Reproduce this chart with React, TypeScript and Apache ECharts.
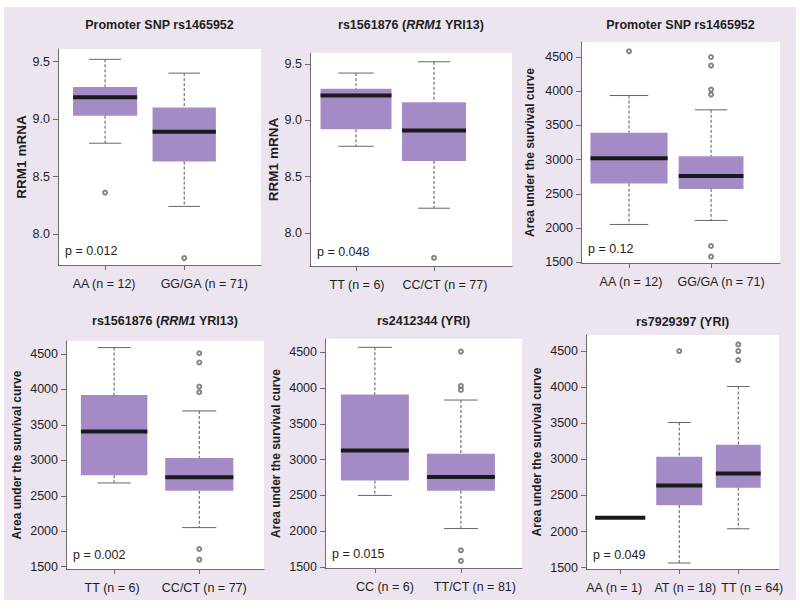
import React, { useEffect, useRef } from 'react';
import * as echarts from 'echarts';

// ---------- data ----------
const p1Categories = ['AA (n = 12)', 'GG/GA (n = 71)'];
const p1Boxes = [
  [8.79, 9.03, 9.19, 9.28, 9.52],
  [8.24, 8.63, 8.89, 9.1, 9.4],
];
const p1Outliers = [[1, 8.36], [2, 7.79]];

const p2Categories = ['TT (n = 6)', 'CC/CT (n = 77)'];
const p2Boxes = [
  [8.77, 8.92, 9.22, 9.28, 9.42],
  [8.22, 8.64, 8.91, 9.16, 9.52],
];
const p2Outliers = [[2, 7.78]];

const p3Categories = ['AA (n = 12)', 'GG/GA (n = 71)'];
const p3Boxes = [
  [2053, 2650, 3019, 3393, 3937],
  [2112, 2573, 2762, 3049, 3728],
];
const p3Outliers = [[1, 4583], [2, 4500], [2, 4374], [2, 4024], [2, 3951], [2, 1738], [2, 1583]];

const p4Categories = ['TT (n = 6)', 'CC/CT (n = 77)'];
const p4Boxes = [
  [2681, 2790, 3406, 3920, 4590],
  [2052, 2570, 2761, 3033, 3697],
];
const p4Outliers = [[2, 4510], [2, 4380], [2, 4040], [2, 3960], [2, 1750], [2, 1600]];

const p5Categories = ['CC (n = 6)', 'TT/CT (n = 81)'];
const p5Boxes = [
  [2500, 2707, 3128, 3912, 4570],
  [2037, 2565, 2758, 3084, 3833],
];
const p5Outliers = [[2, 4510], [2, 4030], [2, 3975], [2, 1733], [2, 1585]];

const p6Categories = ['AA (n = 1)', 'AT (n = 18)', 'TT (n = 64)'];
const p6Boxes = [
  [2190, 2190, 2190, 2190, 2190],
  [1565, 2366, 2638, 3037, 3510],
  [2039, 2607, 2806, 3203, 4009],
];
const p6Outliers = [[2, 4500], [3, 4592], [3, 4500], [3, 4375]];

const rrmTicks = [8.0, 8.5, 9.0, 9.5];
const aucTicks = [1500, 2000, 2500, 3000, 3500, 4000, 4500];

const titles = [
  'Promoter SNP rs1465952',
  'rs1561876 ({i|RRM1} YRI13)',
  'Promoter SNP rs1465952',
  'rs1561876 ({i|RRM1} YRI13)',
  'rs2412344 (YRI)',
  'rs7929397 (YRI)',
];
const yNames = [
  'RRM1 mRNA',
  'RRM1 mRNA',
  'Area under the survival curve',
  'Area under the survival curve',
  'Area under the survival curve',
  'Area under the survival curve',
];
const pValues = ['p = 0.012', 'p = 0.048', 'p = 0.12', 'p = 0.002', 'p = 0.015', 'p = 0.049'];

// ---------- layout ----------
const panels = [
  { cats: p1Categories, boxes: p1Boxes, outliers: p1Outliers, ticks: rrmTicks, dec: 1 },
  { cats: p2Categories, boxes: p2Boxes, outliers: p2Outliers, ticks: rrmTicks, dec: 1 },
  { cats: p3Categories, boxes: p3Boxes, outliers: p3Outliers, ticks: aucTicks, dec: 0 },
  { cats: p4Categories, boxes: p4Boxes, outliers: p4Outliers, ticks: aucTicks, dec: 0 },
  { cats: p5Categories, boxes: p5Boxes, outliers: p5Outliers, ticks: aucTicks, dec: 0 },
  { cats: p6Categories, boxes: p6Boxes, outliers: p6Outliers, ticks: aucTicks, dec: 0 },
];
const layouts = [
  { left: 58, top: 49, width: 203, height: 216, xMin: 0.405, xMax: 2.97, yMin: 7.73, yMax: 9.61, nameGap: 30, nameSize: 13.5, titleY: 25, labelDx: [-1, 20], boxW: [0.81, 0.8] },
  { left: 310, top: 53, width: 202, height: 213, xMin: 0.41, xMax: 3.0, yMin: 7.707, yMax: 9.598, nameGap: 30, nameSize: 13.5, titleY: 25, labelDx: [1, 11], boxW: [0.91, 0.82] },
  { left: 581, top: 42, width: 199, height: 221, xMin: 0.415, xMax: 2.84, yMin: 1490, yMax: 4719, nameGap: 45, nameSize: 12, titleY: 25, labelDx: [2, 10], boxW: [0.94, 0.79] },
  { left: 66, top: 341, width: 198, height: 228, xMin: 0.435, xMax: 2.76, yMin: 1468, yMax: 4683, nameGap: 43, nameSize: 12, titleY: 321, labelDx: [-2, 5], boxW: [0.78, 0.8] },
  { left: 325, top: 339, width: 197, height: 229, xMin: 0.42, xMax: 2.71, yMin: 1486, yMax: 4686, nameGap: 43, nameSize: 12, titleY: 321, labelDx: [10, 14], boxW: [0.79, 0.79] },
  { left: 586, top: 335, width: 193, height: 234, xMin: 0.42, xMax: 3.69, yMin: 1482, yMax: 4722, nameGap: 43, nameSize: 12, titleY: 322, labelDx: [-6, 6, 14], boxW: [0.85, 0.78, 0.76] },
];

const FONT = '"Liberation Sans", Arial, Helvetica, sans-serif';
const AXIS_COLOR = '#6b6b6b';
const TEXT_COLOR = '#1e1e1e';
const BOX_FILL = '#a58bc5';
const WHISKER = '#555555';
const LABEL_SIZE = 12.5;

function renderBox(params: any, api: any) {
  const x = api.value(0);
  const lo = api.coord([x, api.value(1)]);
  const q1 = api.coord([x, api.value(2)]);
  const med = api.coord([x, api.value(3)]);
  const q3 = api.coord([x, api.value(4)]);
  const hi = api.coord([x, api.value(5)]);
  const w = api.size([api.value(6), 0])[0];
  const cx = med[0];
  const dashed = { stroke: WHISKER, lineWidth: 1, lineDash: [3, 2] };
  const solid = { stroke: '#666666', lineWidth: 1 };
  const children: any[] = [];
  if (q1[1] - q3[1] > 0.5) {
    children.push({ type: 'rect', shape: { x: cx - w / 2, y: q3[1], width: w, height: q1[1] - q3[1] }, style: { fill: BOX_FILL } });
    children.push({ type: 'line', shape: { x1: cx, y1: hi[1], x2: cx, y2: q3[1] }, style: dashed });
    children.push({ type: 'line', shape: { x1: cx, y1: q1[1], x2: cx, y2: lo[1] }, style: dashed });
    children.push({ type: 'line', shape: { x1: cx - w / 4, y1: hi[1], x2: cx + w / 4, y2: hi[1] }, style: solid });
    children.push({ type: 'line', shape: { x1: cx - w / 4, y1: lo[1], x2: cx + w / 4, y2: lo[1] }, style: solid });
  }
  children.push({ type: 'line', shape: { x1: cx - w / 2, y1: med[1], x2: cx + w / 2, y2: med[1] }, style: { stroke: '#1a1a1a', lineWidth: 4 } });
  return { type: 'group', children };
}

export default function App() {
  const ref = useRef<HTMLDivElement>(null);
  useEffect(() => {
    if (!ref.current) return;
    const chart = echarts.init(ref.current, undefined, { renderer: 'svg' });
    const grid = layouts.map((l) => ({
      left: l.left, top: l.top, width: l.width, height: l.height,
      show: true, backgroundColor: '#ffffff', borderWidth: 0,
    }));
    const xAxis = panels.map((p, i) => {
      const l = layouts[i];
      const pos = p.cats.map((_, k) => k + 1);
      return {
        type: 'value', gridIndex: i, min: l.xMin, max: l.xMax,
        splitLine: { show: false },
        axisLine: { show: true, onZero: false, lineStyle: { color: AXIS_COLOR, width: 1 } },
        axisTick: { show: true, length: 5, customValues: pos, lineStyle: { color: AXIS_COLOR } },
        axisLabel: { show: false },
      };
    });
    const yAxis = panels.map((p, i) => {
      const l = layouts[i];
      return {
        type: 'value', gridIndex: i, min: l.yMin, max: l.yMax,
        name: yNames[i], nameLocation: 'middle', nameGap: l.nameGap, nameRotate: 90,
        nameTextStyle: { fontWeight: 'bold', fontSize: l.nameSize, color: TEXT_COLOR, fontFamily: FONT },
        splitLine: { show: false },
        axisLine: { show: true, onZero: false, lineStyle: { color: AXIS_COLOR, width: 1 } },
        axisTick: { show: true, length: 5, customValues: p.ticks, lineStyle: { color: AXIS_COLOR } },
        axisLabel: {
          customValues: p.ticks, margin: 8, color: TEXT_COLOR, fontSize: LABEL_SIZE, fontFamily: FONT,
          hideOverlap: false,
          formatter: (v: number) => v.toFixed(p.dec),
        },
      };
    });
    const series: any[] = [];
    panels.forEach((p, i) => {
      const l = layouts[i];
      series.push({
        type: 'custom', xAxisIndex: i, yAxisIndex: i,
        renderItem: renderBox,
        encode: { x: 0, y: [1, 2, 3, 4, 5] },
        data: p.boxes.map((b, k) => [k + 1, ...b, l.boxW[k]]),
        clip: false,
      });
      series.push({
        type: 'scatter', xAxisIndex: i, yAxisIndex: i,
        symbol: 'emptyCircle', symbolSize: 4,
        itemStyle: { color: '#666666', borderWidth: 0.8 },
        data: p.outliers,
      });
    });
    chart.setOption({
      animation: false,
      backgroundColor: 'transparent',
      grid, xAxis, yAxis, series,
    });

    const graphic: any[] = [];
    layouts.forEach((l, i) => {
      graphic.push({
        type: 'text', x: l.left + l.width / 2, y: l.titleY,
        style: {
          text: titles[i], textAlign: 'center', textVerticalAlign: 'middle',
          fontSize: 12.5, fontWeight: 'bold', fontFamily: FONT, fill: TEXT_COLOR,
          rich: { i: { fontStyle: 'italic', fontWeight: 'bold', fontSize: 12.5, fontFamily: FONT, color: TEXT_COLOR } },
        },
      });
      graphic.push({
        type: 'text', x: l.left + 7, y: l.top + l.height - 14,
        style: {
          text: pValues[i], textAlign: 'left', textVerticalAlign: 'middle',
          fontSize: LABEL_SIZE, fontFamily: FONT, fill: TEXT_COLOR,
        },
      });
      panels[i].cats.forEach((c, k) => {
        const px = chart.convertToPixel({ xAxisIndex: i } as any, k + 1) as number;
        graphic.push({
          type: 'text', x: px + l.labelDx[k], y: l.top + l.height + 18.5,
          style: {
            text: c, textAlign: 'center', textVerticalAlign: 'middle',
            fontSize: LABEL_SIZE, fontFamily: FONT, fill: TEXT_COLOR,
          },
        });
      });
    });
    chart.setOption({ graphic });
    return () => chart.dispose();
  }, []);
  return (
    <div style={{ position: 'fixed', left: 0, top: 0, width: 800, height: 612, background: '#ffffff' }}>
      <div style={{ position: 'absolute', left: 4, top: 7, width: 792, height: 593, background: '#ece5f0' }} />
      <div ref={ref} style={{ position: 'absolute', left: 0, top: 0, width: 800, height: 612 }} />
    </div>
  );
}
